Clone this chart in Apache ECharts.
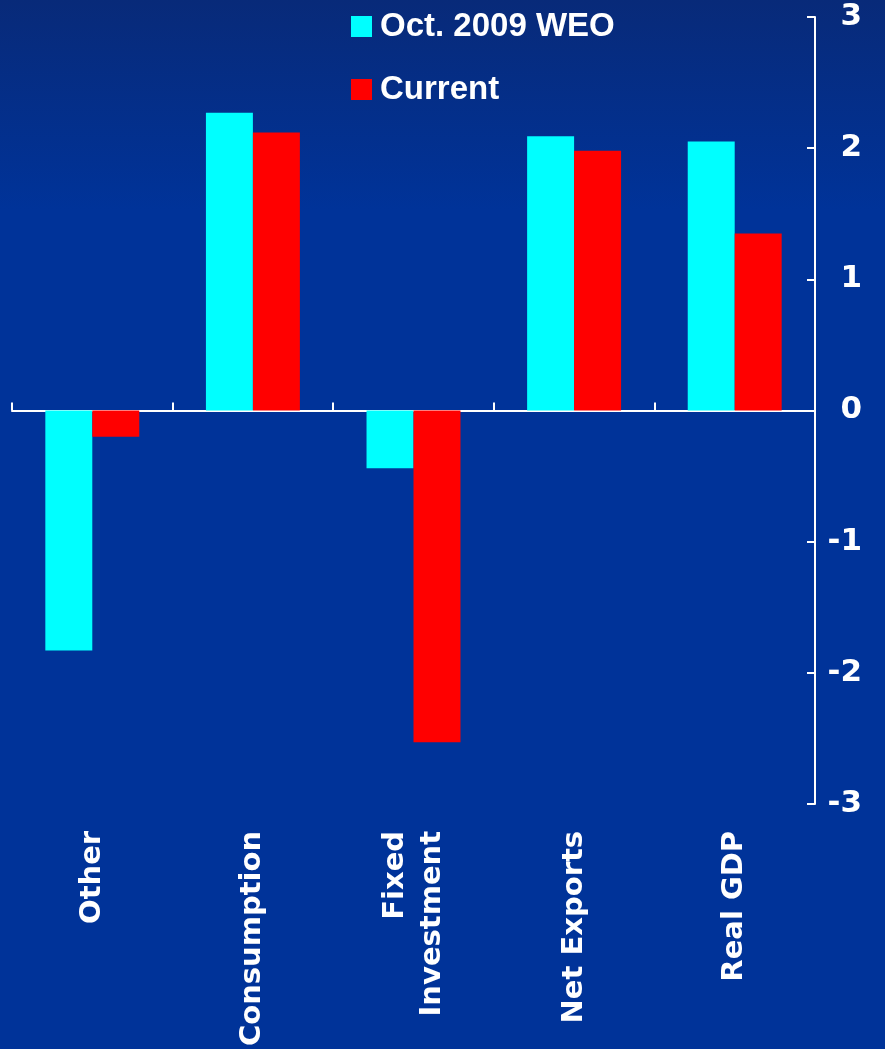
<!DOCTYPE html>
<html>
<head>
<meta charset="utf-8">
<script src="https://cdn.jsdelivr.net/npm/echarts@6/dist/echarts.min.js"></script>
<style>
  html, body { margin: 0; padding: 0; background: #003399; }
  #chart { width: 885px; height: 1049px; }
</style>
</head>
<body>
<div id="chart"></div>
<script>
// Contributions to growth revisions, percentage points
const categories = ['Other', 'Consumption', 'Fixed\nInvestment', 'Net Exports', 'Real GDP'];
const weoOct2009 = [-1.83, 2.27, -0.44, 2.09, 2.05];
const current = [-0.20, 2.12, -2.53, 1.98, 1.35];
const seriesNames = ['Oct. 2009 WEO', 'Current'];
const yTicks = { min: -3, max: 3, interval: 1 };

const chart = echarts.init(document.getElementById('chart'), null, { renderer: 'canvas' });

const labelFont = 'DejaVu Sans';
const legendFont = 'Liberation Sans';

chart.setOption({
  animation: false,
  backgroundColor: {
    type: 'linear', x: 0, y: 0, x2: 0, y2: 1,
    colorStops: [
      { offset: 0, color: '#082a79' },
      { offset: 0.2, color: '#003399' },
      { offset: 1, color: '#003399' }
    ]
  },
  grid: { left: 12, right: 70, top: 17, bottom: 240, containLabel: false },
  legend: {
    orient: 'vertical',
    left: 346,
    top: 5,
    itemWidth: 21,
    itemHeight: 21,
    itemGap: 30,
    icon: 'rect',
    data: seriesNames,
    textStyle: {
      color: '#ffffff',
      fontFamily: legendFont,
      fontWeight: 'bold',
      fontSize: 33,
      lineHeight: 33,
      padding: [0, 0, 0, 3]
    }
  },
  xAxis: [
    {
      // category labels along the bottom edge
      type: 'category',
      data: categories,
      position: 'bottom',
      axisLine: { show: false, onZero: false },
      axisTick: { show: false },
      axisLabel: {
        rotate: 90,
        margin: 27,
        color: '#ffffff',
        fontFamily: labelFont,
        fontWeight: 'bold',
        fontSize: 29,
        lineHeight: 37,
        align: 'right'
      }
    },
    {
      // baseline through zero with boundary ticks
      type: 'category',
      data: categories,
      position: 'bottom',
      axisLine: { show: true, onZero: true, lineStyle: { color: '#ffffff', width: 2 } },
      axisTick: { show: true, inside: true, length: 8, lineStyle: { color: '#ffffff', width: 2 } },
      axisLabel: { show: false }
    }
  ],
  yAxis: {
    type: 'value',
    position: 'right',
    min: yTicks.min,
    max: yTicks.max,
    interval: yTicks.interval,
    axisLine: { show: true, lineStyle: { color: '#ffffff', width: 2 } },
    axisTick: { show: true, inside: true, length: 8, lineStyle: { color: '#ffffff', width: 2 } },
    splitLine: { show: false },
    axisLabel: {
      margin: 47,
      align: 'right',
      color: '#ffffff',
      fontFamily: labelFont,
      fontWeight: 'bold',
      fontSize: 31
    }
  },
  series: [
    {
      name: seriesNames[0],
      type: 'bar',
      xAxisIndex: 0,
      data: weoOct2009,
      itemStyle: { color: '#00ffff' },
      barGap: '0%',
      barCategoryGap: '41.5%'
    },
    {
      name: seriesNames[1],
      type: 'bar',
      xAxisIndex: 0,
      data: current,
      itemStyle: { color: '#ff0000' },
      barGap: '0%',
      barCategoryGap: '41.5%'
    }
  ]
});
</script>
</body>
</html>
